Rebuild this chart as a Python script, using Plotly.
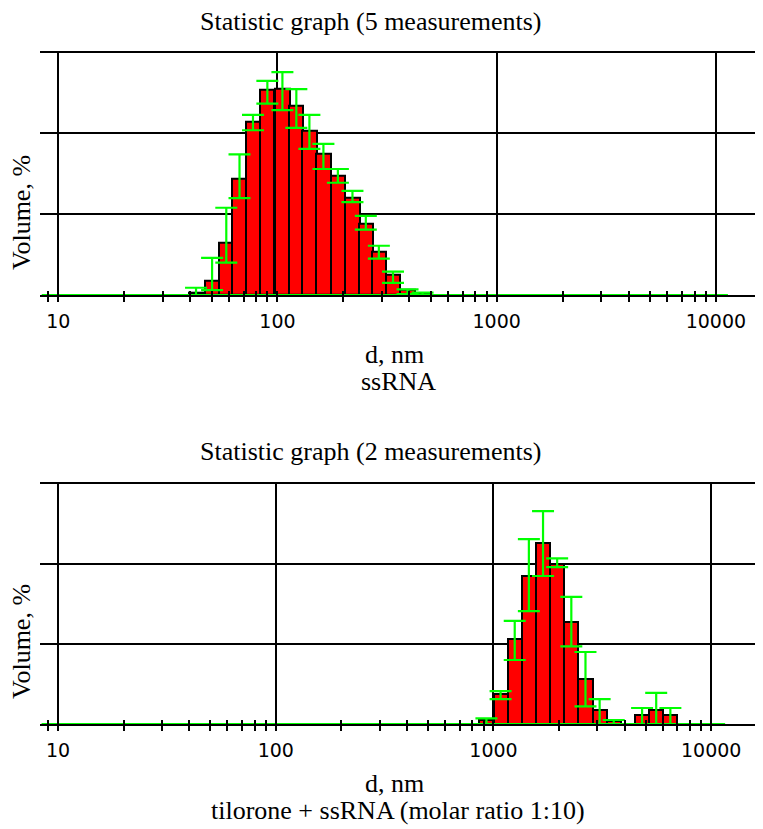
import numpy as np
import plotly.graph_objects as go

# bin centres (nm) and volume (% in grid units)
d_top = [42.5, 50.3, 58.4, 67.1, 77.3, 89.9, 105.3, 121.9, 139.8, 162.0,
         188.6, 219.8, 252.9, 290.0, 336.5, 392.0, 459.0]
vol_top = [0.03, 0.18, 0.65, 1.44, 2.15, 2.54, 2.56, 2.35, 2.03, 1.75,
           1.48, 1.20, 0.88, 0.54, 0.25, 0.06, 0.02]
err_top_plus = [0.06, 0.28, 0.43, 0.30, 0.08, 0.11, 0.20, 0.20, 0.20, 0.12,
                0.08, 0.09, 0.10, 0.07, 0.04, 0.01, 0.01]
err_top_minus = [0.03, 0.12, 0.25, 0.24, 0.11, 0.17, 0.27, 0.28, 0.22, 0.19,
                 0.09, 0.05, 0.07, 0.09, 0.10, 0.05, 0.02]

d_bot = [928, 1078, 1252, 1454, 1689, 1961, 2278, 2646, 3073, 3568,
         4815, 5590, 6494]
vol_bot = [0.05, 0.38, 1.06, 1.85, 2.26, 2.00, 1.27, 0.56, 0.18, 0.04,
           0.11, 0.18, 0.11]
err_bot_plus = [0.02, 0.03, 0.23, 0.46, 0.40, 0.07, 0.32, 0.34, 0.13, 0.01,
                0.09, 0.21, 0.09]
err_bot_minus = [0.05, 0.07, 0.26, 0.44, 0.41, 0.04, 0.30, 0.34, 0.18, 0.04,
                 0.11, 0.18, 0.11]

# zero-volume bins show up as a green line along the baseline
zero_span_top = [8.4, 11350]
zero_span_bot = [8.4, 11590]

major_nm = [10, 100, 1000, 10000]
major_text = ["10", "100", "1000", "10000"]
minor_nm = [9, 20, 30, 40, 50, 60, 70, 80, 90,
            200, 300, 400, 500, 600, 700, 800, 900,
            2000, 3000, 4000, 5000, 6000, 7000, 8000, 9000]

titles = ["Statistic graph (5 measurements)", "Statistic graph (2 measurements)"]
samples = ["ssRNA", "tilorone + ssRNA (molar ratio 1:10)"]

# the page body has an 8px margin, so the figure is drawn 8px smaller
PAGE_W, PAGE_H = 763, 829
BODY = 8
W, H = PAGE_W - BODY, PAGE_H - BODY
LEFT = 40  # left edge of the plot area, in page pixels
RED = "#ff0000"
GREEN = "#00ff00"
SERIF = "Liberation Serif"


def px_x(px):
    return (px - LEFT) / (PAGE_W - LEFT)


def px_y(py):
    return (PAGE_H - py) / H


def bars(d, vol, up, down, xa, ya):
    return go.Bar(
        x=np.log10(d), y=vol, width=0.065,
        marker={"color": RED, "line": {"color": "black", "width": 2}},
        error_y={"type": "data", "symmetric": False, "array": up,
                 "arrayminus": down, "color": GREEN, "thickness": 2.2, "width": 11},
        xaxis=xa, yaxis=ya, showlegend=False, hoverinfo="skip",
    )


def zero_line(span, xa, ya):
    return go.Scatter(
        x=np.log10(span), y=[0, 0], mode="lines",
        line={"color": GREEN, "width": 2},
        xaxis=xa, yaxis=ya, showlegend=False, hoverinfo="skip",
    )


def x_main(rng, anchor):
    return {
        "domain": [0, 1], "anchor": anchor, "range": rng,
        "tickmode": "array", "tickvals": np.log10(major_nm), "ticktext": major_text,
        "ticks": "outside", "ticklen": 5, "tickwidth": 2, "tickcolor": "black",
        "ticklabelstandoff": 3,
        "tickfont": {"family": "DejaVu Sans", "size": 19, "color": "black"},
        "showgrid": True, "gridcolor": "black", "gridwidth": 2,
        "showline": True, "linecolor": "black", "linewidth": 2, "mirror": True,
        "zeroline": False, "layer": "below traces", "fixedrange": True,
        "minor": {"tickmode": "array", "tickvals": np.log10(minor_nm),
                  "ticks": "outside", "ticklen": 5, "tickwidth": 2,
                  "tickcolor": "black", "showgrid": False},
    }


def x_over(rng, over, anchor):
    return {
        "overlaying": over, "anchor": anchor, "range": rng,
        "tickmode": "array", "tickvals": np.log10(major_nm),
        "ticks": "inside", "ticklen": 4, "tickwidth": 2, "tickcolor": "black",
        "showticklabels": False, "showgrid": False, "showline": False,
        "zeroline": False, "fixedrange": True,
        "minor": {"tickmode": "array", "tickvals": np.log10(minor_nm),
                  "ticks": "inside", "ticklen": 4, "tickwidth": 2,
                  "tickcolor": "black", "showgrid": False},
    }


def y_axis(dom):
    return {
        "domain": dom, "range": [0, 3], "tickmode": "array", "tickvals": [1, 2],
        "showgrid": True, "gridcolor": "black", "gridwidth": 1.5,
        "showticklabels": False, "ticks": "", "zeroline": False,
        "showline": False, "fixedrange": True,
    }


rng_top = [0.9165, 4.215]
rng_bot = [0.917, 4.238]

fig = go.Figure([
    zero_line(zero_span_top, "x", "y"),
    bars(d_top, vol_top, err_top_plus, err_top_minus, "x", "y"),
    zero_line(zero_span_bot, "x2", "y2"),
    bars(d_bot, vol_bot, err_bot_plus, err_bot_minus, "x2", "y2"),
    go.Scatter(x=[], y=[], xaxis="x3", yaxis="y", showlegend=False),
    go.Scatter(x=[], y=[], xaxis="x4", yaxis="y2", showlegend=False),
])

annotations = []
for i, off in enumerate([0, 429]):
    annotations += [
        {"text": titles[i], "x": px_x(371), "y": px_y(22 + off)},
        {"text": "d, nm", "x": px_x(394), "y": px_y(354 + off)},
        {"text": samples[i], "x": px_x(398), "y": px_y(381 + off)},
        {"text": "Volume, %", "x": px_x(21), "y": px_y(213 + off), "textangle": -90},
    ]
for a in annotations:
    a.update({"xref": "paper", "yref": "paper", "showarrow": False,
              "xanchor": "center", "yanchor": "middle",
              "font": {"family": SERIF, "size": 26, "color": "black"}})

fig.update_layout(
    width=W, height=H,
    margin={"l": LEFT - BODY, "r": 0, "t": 0, "b": 0},
    paper_bgcolor="white", plot_bgcolor="white",
    bargap=0, showlegend=False,
    xaxis=x_main(rng_top, "y"),
    xaxis2=x_main(rng_bot, "y2"),
    xaxis3=x_over(rng_top, "x", "y"),
    xaxis4=x_over(rng_bot, "x2", "y2"),
    yaxis=y_axis([px_y(295), px_y(52.7)]),
    yaxis2=y_axis([px_y(724), px_y(484)]),
    annotations=annotations,
)

fig.write_html("out.html")
